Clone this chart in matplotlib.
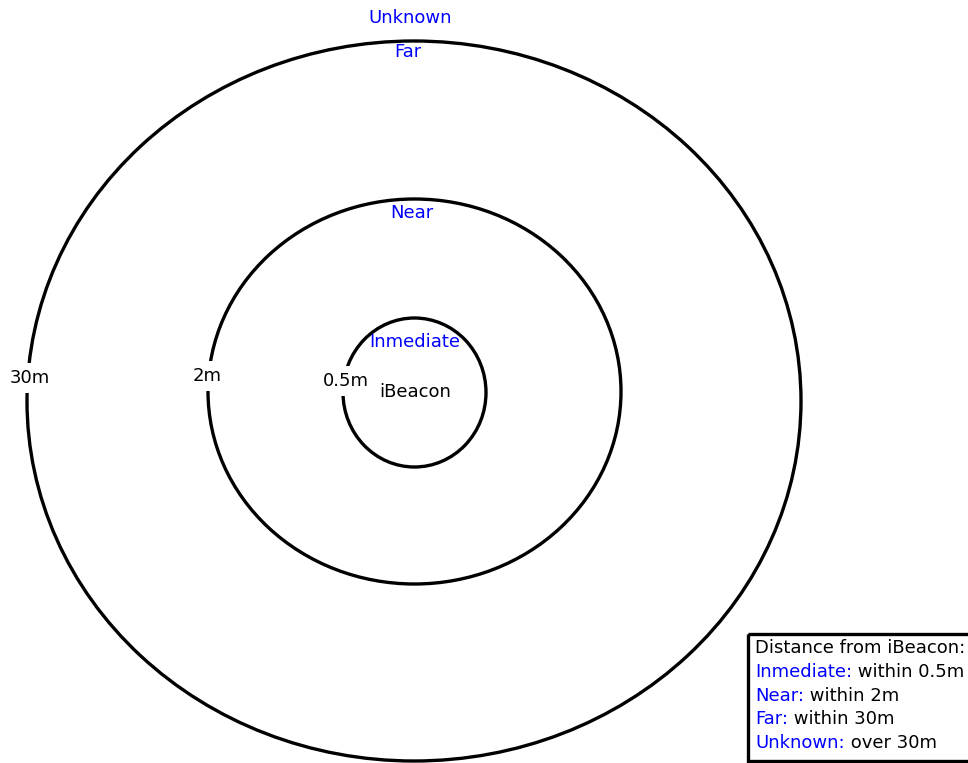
import matplotlib
matplotlib.use("Agg")
import matplotlib.pyplot as plt
from matplotlib.patches import Ellipse, Rectangle

# zones, from inside out
zones = ["Inmediate", "Near", "Far", "Unknown"]
limits = ["0.5m", "2m", "30m"]
legend_rest = ["within 0.5m", "within 2m", "within 30m", "over 30m"]

# ring geometry in pixel-like drawing units (centre x, centre y, width, height)
rings = [(414.5, 392.5, 143, 149),
         (414.5, 391.5, 413, 385),
         (414.0, 401.0, 774, 720)]
limit_pos = [(346, 381), (207, 376), (30, 378)]
zone_pos = [(415, 342), (412, 213), (408, 52), (410, 18)]

BLUE = "#0000ff"
FS = 13

fig = plt.figure(figsize=(9.68, 7.63), dpi=100)
ax = fig.add_axes([0, 0, 1, 1])
ax.set_xlim(0, 968); ax.set_ylim(763, 0)
ax.axis("off")

for (cx, cy, w, h) in rings:
    ax.add_patch(Ellipse((cx, cy), w, h, fill=False, ec="black", lw=2.4, clip_on=False))

for lab, (x, y) in zip(limits, limit_pos):
    ax.text(x, y, lab, fontsize=FS, ha="center", va="center",
            bbox=dict(fc="white", ec="none", pad=4))

for z, (x, y) in zip(zones, zone_pos):
    ax.text(x, y, z, fontsize=FS, color=BLUE, ha="center", va="center")

ax.text(415, 392, "iBeacon", fontsize=FS, ha="center", va="center")

# legend box, bottom right
ax.add_patch(Rectangle((748, 634), 225, 127, fill=False, ec="black", lw=2.4, clip_on=False))
ax.text(755, 648, "Distance from iBeacon:", fontsize=FS, va="center")
y = 672
for z, rest in zip(zones, legend_rest):
    t = ax.text(755, y, z + ":", fontsize=FS, color=BLUE, va="center")
    ax.annotate(" " + rest, xy=(1, 0.5), xycoords=t, fontsize=FS, va="center")
    y += 23.7

fig.savefig("out.png", dpi=100)
